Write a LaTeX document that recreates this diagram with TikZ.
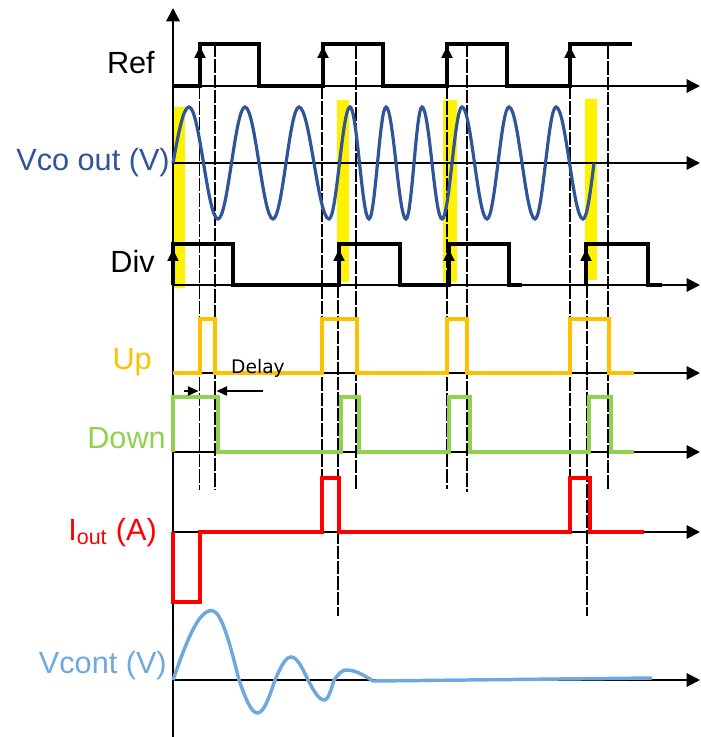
\documentclass[tikz,border=0pt]{standalone}
\usepackage{fontspec}
\setmainfont{Liberation Sans}
\newfontfamily\delayfont{DejaVu Sans}
\usetikzlibrary{arrows.meta}
\definecolor{vcoblue}{RGB}{47,85,151}
\definecolor{uporange}{RGB}{255,192,0}
\definecolor{dngreen}{RGB}{146,208,80}
\definecolor{contblue}{RGB}{111,168,220}

\begin{document}
\begin{tikzpicture}[x=0.75pt,y=-0.75pt,font=\fontsize{23}{27}\selectfont,
 ax/.style={-{Triangle[length=10pt,width=10pt]},line width=1.5pt},
 wave/.style={line width=#1,line join=miter},
 wave/.default=3pt,
 guide/.style={black,line width=.9pt,dash pattern=on 10pt off 1.5pt},
 lbl/.style={anchor=base east,inner sep=0pt},
 riseup/.style={-{Triangle[length=9pt,width=8pt]},line width=2.6pt},
 dly/.style={-{Triangle[length=8pt,width=7pt]},line width=1.1pt}]
\useasboundingbox (0,0) rectangle (700,737);
\foreach \a/\b/\c/\d in {173/107/185/288,337/100/349/282,443/100/457/282,585/99/597/280}
 \fill[yellow] (\a,\b) rectangle (\c,\d);
\foreach \x/\t/\b in {199.5/86/490,215/44/490,322/86/478,338/285/616,356/46/490,
 447/86/489,467/44/492,570/86/478,587/285/616,608/46/489}
 \draw[guide] (\x,\t) -- (\x,\b);
\foreach \y in {86,163,285,373,452,532,680} \draw[ax] (173,\y) -- (700,\y);
\draw[ax] (173,737) -- (173,8);
\node[lbl] (ref) at (155,74) {Ref};
\node[lbl,text=vcoblue] (vco) at (170,171) {Vco out (V)};
\node[lbl] (div) at (155,273) {Div};
\node[lbl,text=uporange] (up) at (152,369) {Up};
\node[lbl,text=dngreen] (down) at (166,448) {Down};
\node[lbl,text=red] (iout) at (157,540) {I\textsubscript{out} (A)};
\node[lbl,text=contblue] (vcont) at (167,673) {Vcont (V)};
\draw[wave] (173,86) -| (200,44) -| (259,86) -| (323,44) -| (383,86) -| (447,44)
 -| (507,86) -| (570,44) -- (632,44);
\foreach \x in {200,323,447,570} \draw[riseup] (\x,72) -- (\x,46);
\draw[wave] (173,285) |- (233,244) |- (339,285) |- (400,244) |- (449,285) |- (509,244)
 |- (522,285) (586,285) |- (648,244) |- (662,285);
\foreach \x in {173,339,449,586} \draw[riseup] (\x,276) -- (\x,249);
\draw[vcoblue,line width=2.4pt] (173,163)
 \foreach \xa/\ya/\xb in {189/107/203.5,218/219/231.5,245/107/259,273/219/286,299/107/314,
 329/219/339.5,350/107/359.5,369/219/377.5,386/107/396,406/219/414,422/107/432,442/219/452,
 462/107/474.5,487/219/498,509/107/522,535/219/545.5,556/107/569.5,583/219/594}
 { sin (\xa,\ya) cos (\xb,163) };
\draw[uporange,wave=2.6pt] (173,373) -- (200,373) |- (215,319) |- (322,373) |- (357,319)
 |- (447,373) |- (467,319) |- (570,373) |- (609,319) |- (634,373);
\draw[dngreen,wave=2.6pt] (173,452) |- (218,397) |- (341,452) |- (359,397) |- (449,452)
 |- (470,397) |- (589,452) |- (611,397) |- (634,452);
\draw[red,wave=2.3pt] (173,532) |- (200,602) |- (322,532) |- (339,478) |- (570,532)
 |- (590,478) |- (644,532);
\draw[contblue,line width=2.6pt] (173,680) sin (211.6,610.5) cos (239,680) sin (257.5,713)
 cos (275,680) sin (291,657) cos (308,680) sin (324.6,700) cos (334,680) sin (346,670)
 cos (373,681) -- (652,678);
\node[font=\delayfont\fontsize{14}{16}\selectfont,inner sep=0pt] (delay) at (258,368) {Delay};
\coordinate (dlyA) at (184,391);
\coordinate (dlyB) at (198.5,391);
\coordinate (dlyC) at (263,391);
\coordinate (dlyD) at (216.5,391);
\draw[dly] (dlyA) -- (dlyB);
\draw[dly] (dlyC) -- (dlyD);
\end{tikzpicture}
\end{document}
